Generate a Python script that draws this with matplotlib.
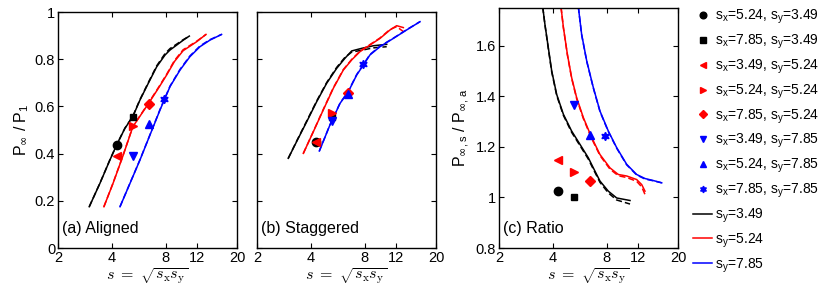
import numpy as np
import matplotlib
matplotlib.use("Agg")
import matplotlib.pyplot as plt
from matplotlib.lines import Line2D
from matplotlib.legend_handler import HandlerLine2D

plt.rcParams['font.family'] = ['Liberation Sans', 'DejaVu Sans']
plt.rcParams['axes.linewidth'] = 1.0

# ---------------- data ----------------
sx = [5.24, 7.85, 3.49, 5.24, 7.85, 3.49, 5.24, 7.85]
sy = [3.49, 3.49, 5.24, 5.24, 5.24, 7.85, 7.85, 7.85]
marker_colors = ['k', 'k', 'r', 'r', 'r', 'b', 'b', 'b']
marker_shapes = ['o', 's', '<', '>', 'D', 'v', '^', (6, 1, 0)]
aligned_pts = [0.436, 0.556, 0.39, 0.515, 0.61, 0.39, 0.525, 0.63]
staggered_pts = [0.451, 0.555, 0.451, 0.571, 0.655, 0.538, 0.651, 0.778]
ratio_pts = [1.025, 1.002, 1.150, 1.100, 1.065, 1.366, 1.246, 1.243]

line_colors = ['k', 'r', 'b']
line_labels = ['3.49', '5.24', '7.85']

# aligned curves (solid / dashed)
al_s = [[2.99, 3.43, 3.90, 4.25, 4.73, 5.23, 5.74, 6.39, 7.12, 7.93, 8.45, 9.21, 10.03, 10.83],
        [3.61, 4.06, 4.61, 5.24, 6.39, 7.32, 8.09, 8.94, 10.0, 11.9, 13.42],
        [4.44, 5.05, 5.74, 6.53, 7.43, 8.45, 9.61, 10.92, 12.42, 14.13, 16.4]]
al_y = [[0.175, 0.274, 0.373, 0.436, 0.507, 0.556, 0.627, 0.698, 0.768, 0.818, 0.839, 0.860, 0.881, 0.898],
        [0.175, 0.274, 0.390, 0.514, 0.611, 0.680, 0.733, 0.790, 0.836, 0.874, 0.905],
        [0.175, 0.274, 0.373, 0.479, 0.585, 0.684, 0.754, 0.811, 0.853, 0.881, 0.905]]
al_yd = [[0.175, 0.275, 0.374, 0.437, 0.508, 0.558, 0.629, 0.701, 0.772, 0.824, 0.845, 0.864, 0.883, 0.898],
         [0.175, 0.275, 0.391, 0.515, 0.613, 0.683, 0.736, 0.794, 0.840, 0.876, 0.905],
         [0.175, 0.275, 0.374, 0.480, 0.587, 0.686, 0.757, 0.814, 0.856, 0.883, 0.905]]

# staggered curves
st_s = [[2.99, 3.33, 3.79, 4.31, 4.90, 5.57, 6.20, 6.76, 7.69, 8.93, 10.61],
        [3.63, 4.13, 4.69, 5.34, 6.07, 6.76, 7.52, 8.55, 9.73, 11.07, 12.06, 13.14],
        [4.46, 5.11, 5.82, 6.47, 7.21, 7.85, 8.55, 9.73, 11.55, 13.71, 16.28]]
st_y = [[0.380, 0.451, 0.535, 0.620, 0.698, 0.761, 0.804, 0.835, 0.846, 0.857, 0.863],
        [0.401, 0.493, 0.585, 0.677, 0.754, 0.797, 0.832, 0.860, 0.888, 0.924, 0.942, 0.934],
        [0.411, 0.521, 0.613, 0.662, 0.733, 0.775, 0.818, 0.853, 0.888, 0.924, 0.959]]
st_yd = [[0.380, 0.453, 0.538, 0.623, 0.701, 0.765, 0.808, 0.830, 0.838, 0.848, 0.853],
         [0.401, 0.494, 0.587, 0.679, 0.756, 0.799, 0.834, 0.862, 0.890, 0.926, 0.938, 0.917],
         [0.411, 0.522, 0.614, 0.664, 0.735, 0.777, 0.820, 0.855, 0.889, 0.925, 0.959]]

# ratio curves
ra_s = [[3.51, 3.61, 3.77, 3.94, 4.20, 4.58, 5.09, 5.67, 6.31, 6.73, 7.33, 8.16, 9.09, 10.79],
        [4.44, 4.58, 4.82, 5.09, 5.43, 5.92, 6.59, 7.33, 8.34, 9.28, 10.34, 11.75, 12.54, 13.08],
        [5.55, 5.79, 6.18, 6.73, 7.33, 8.16, 9.09, 10.34, 11.75, 13.08, 14.56, 16.22]]
ra_y = [[1.754, 1.686, 1.594, 1.501, 1.408, 1.329, 1.263, 1.210, 1.157, 1.117, 1.065, 1.025, 0.998, 0.988],
        [1.754, 1.673, 1.567, 1.475, 1.395, 1.316, 1.237, 1.170, 1.117, 1.091, 1.085, 1.071, 1.051, 1.025],
        [1.754, 1.646, 1.541, 1.435, 1.342, 1.263, 1.197, 1.131, 1.091, 1.075, 1.067, 1.058]]
ra_yd = [[1.754, 1.684, 1.590, 1.497, 1.404, 1.325, 1.258, 1.205, 1.152, 1.112, 1.060, 1.018, 0.990, 0.974],
         [1.754, 1.671, 1.564, 1.472, 1.391, 1.312, 1.233, 1.166, 1.112, 1.086, 1.079, 1.064, 1.042, 1.012],
         [1.754, 1.644, 1.539, 1.433, 1.340, 1.261, 1.195, 1.129, 1.089, 1.073, 1.066, 1.058]]

xticks = [2, 4, 8, 12, 20]

# ---------------- figure ----------------
W, H = 830, 294
fig = plt.figure(figsize=(W / 100, H / 100), dpi=100)

def ax_at(l, t, w, h):
    return fig.add_axes([l / W, (H - t - h) / H, w / W, h / H])

axA = ax_at(58, 12, 179, 236)
axB = ax_at(257, 12, 179, 236)
axC = ax_at(499, 8, 179, 240)

s_pts = np.sqrt(np.array(sx) * np.array(sy))

def style(ax, ylim, yticks, ylabels):
    ax.set_xscale('log')
    ax.set_xlim(2, 20)
    ax.set_xticks(xticks)
    ax.set_xticklabels([str(t) for t in xticks])
    ax.xaxis.set_minor_locator(matplotlib.ticker.NullLocator())
    ax.set_ylim(*ylim)
    ax.set_yticks(yticks)
    ax.set_yticklabels(ylabels)
    ax.tick_params(direction='in', top=True, right=True, length=3.5,
                   width=0.8, labelsize=10.5, pad=2)
    ax.set_xlabel(r'$s\ =\ \sqrt{s_{\mathrm{x}}s_{\mathrm{y}}}$',
                  math_fontfamily='cm', fontsize=11.5, labelpad=1)

def draw(ax, xs, ys, yds, pts):
    for k in range(3):
        ax.plot(xs[k], ys[k], '-', color=line_colors[k], lw=1.1)
        ax.plot(xs[k], yds[k], '--', color=line_colors[k], lw=1.1, dashes=(4, 2))
    for i in range(8):
        shp = marker_shapes[i]
        ms = 6.0
        if shp in ('s', 'D'):
            ms = 5.0
        ax.plot(s_pts[i], pts[i], linestyle='none', marker=shp,
                color=marker_colors[i], ms=ms, mec=marker_colors[i])

draw(axA, al_s, al_y, al_yd, aligned_pts)
draw(axB, st_s, st_y, st_yd, staggered_pts)
draw(axC, ra_s, ra_y, ra_yd, ratio_pts)

yt = [0, 0.2, 0.4, 0.6, 0.8, 1.0]
style(axA, (0, 1), yt, ['0', '0.2', '0.4', '0.6', '0.8', '1'])
style(axB, (0, 1), yt, ['0', '0.2', '0.4', '0.6', '0.8', '1'])
axB.tick_params(labelleft=False)
ytc = [0.8, 1.0, 1.2, 1.4, 1.6]
style(axC, (0.8, 1.75), ytc, ['0.8', '1', '1.2', '1.4', '1.6'])

axA.set_ylabel(r'P$_{\infty}$ / P$_{\mathregular{1}}$', fontsize=11.5, labelpad=3)
axC.set_ylabel(r'P$_{\infty\mathregular{,s}}$ / P$_{\infty\mathregular{,a}}$',
               fontsize=11.5, labelpad=3)

for ax, txt in [(axA, '(a) Aligned'), (axB, '(b) Staggered'), (axC, '(c) Ratio')]:
    ax.text(0.022, 0.064, txt, transform=ax.transAxes, fontsize=11.5,
            ha='left', va='baseline')


class LeftMarker(HandlerLine2D):
    def get_xdata(self, legend, xdescent, ydescent, width, height, fontsize):
        xdata, xmark = super().get_xdata(legend, xdescent, ydescent, width, height, fontsize)
        return xdata, [-xdescent + 0.22 * width]


# legend
handles, labels, hmap = [], [], {}
for i in range(8):
    h = Line2D([], [], linestyle='none', marker=marker_shapes[i],
               color=marker_colors[i], mec=marker_colors[i],
               ms=4.8 if marker_shapes[i] not in ('s', 'D') else 4.2)
    handles.append(h)
    hmap[h] = LeftMarker(numpoints=1)
    labels.append(r's$_{\mathregular{x}}$=%.2f, s$_{\mathregular{y}}$=%.2f' % (sx[i], sy[i]))
for k in range(3):
    handles.append(Line2D([], [], color=line_colors[k], lw=1.1))
    labels.append(r's$_{\mathregular{y}}$=' + line_labels[k])

fig.legend(handles, labels, loc='upper left', bbox_to_anchor=(693 / W, 1.0 - 8 / H),
           frameon=False, fontsize=10, handlelength=1.4, handletextpad=0.2,
           labelspacing=0.47, borderaxespad=0, borderpad=0, handler_map=hmap)

fig.savefig('out.png', dpi=100)
